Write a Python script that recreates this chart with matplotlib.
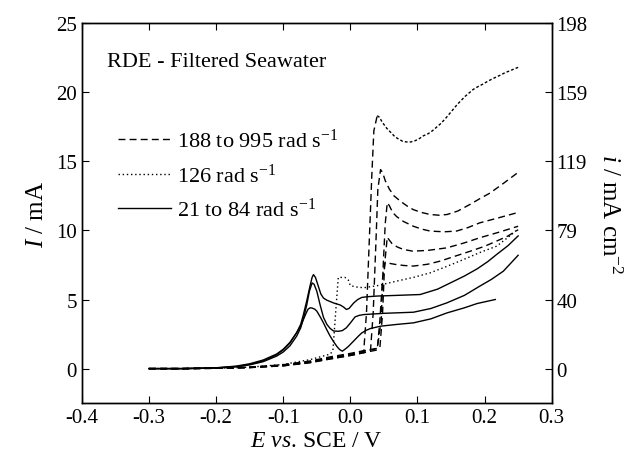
import matplotlib
matplotlib.use("Agg")
import matplotlib.pyplot as plt

# -----------------------------
# Data (E in V vs SCE, I in mA)
# -----------------------------
# 188 to 995 rad/s (dashed)
e_d1 = [-0.30, -0.25, -0.20, -0.15, -0.10, -0.06, -0.03, 0.00, 0.015, 0.020, 0.024, 0.028, 0.032, 0.035,
        0.040, 0.043, 0.048, 0.054, 0.060, 0.066, 0.072, 0.078, 0.084, 0.090, 0.097, 0.103, 0.109, 0.116,
        0.122, 0.128, 0.134, 0.140, 0.147, 0.153, 0.159, 0.165, 0.171, 0.177, 0.183, 0.190, 0.198, 0.205,
        0.213, 0.222, 0.230, 0.240, 0.250]
i_d1 = [0.0, 0.0, 0.02, 0.08, 0.2, 0.42, 0.7, 0.95, 1.1, 1.3, 4.0, 9.0, 14.0, 17.2,
        18.3, 18.2, 17.8, 17.4, 17.1, 16.8, 16.6, 16.45, 16.4, 16.4, 16.5, 16.65, 16.85, 17.0,
        17.2, 17.45, 17.7, 18.0, 18.4, 18.75, 19.1, 19.4, 19.7, 19.95, 20.2, 20.4, 20.6, 20.8,
        21.0, 21.2, 21.4, 21.6, 21.8]
d1_peak = 14  # index of the peak, after which the trace looks finely dotted

e_d2 = [-0.30, -0.25, -0.20, -0.15, -0.10, -0.06, -0.03, 0.00, 0.02, 0.030, 0.034, 0.038, 0.041, 0.045,
        0.048, 0.052, 0.058, 0.065, 0.075, 0.085, 0.094, 0.106, 0.119, 0.132, 0.144, 0.160, 0.179, 0.193,
        0.208, 0.228, 0.250]
i_d2 = [0.0, 0.0, 0.03, 0.1, 0.25, 0.5, 0.78, 1.0, 1.15, 1.3, 4.0, 9.0, 13.0, 14.4,
        14.2, 13.6, 13.0, 12.5, 12.1, 11.75, 11.5, 11.3, 11.15, 11.1, 11.15, 11.4, 11.9, 12.3,
        12.7, 13.4, 14.2]

e_d3 = [-0.30, -0.25, -0.20, -0.15, -0.10, -0.06, -0.03, 0.00, 0.02, 0.040, 0.046, 0.049, 0.052, 0.055,
        0.058, 0.063, 0.069, 0.079, 0.094, 0.106, 0.119, 0.140, 0.158, 0.175, 0.193, 0.220, 0.250]
i_d3 = [0.0, 0.0, 0.02, 0.08, 0.22, 0.48, 0.75, 1.05, 1.25, 1.45, 3.5, 7.5, 10.5, 12.0,
        11.8, 11.3, 11.0, 10.65, 10.3, 10.1, 9.95, 9.9, 9.95, 10.2, 10.55, 10.9, 11.3]

e_d4 = [-0.30, -0.25, -0.20, -0.15, -0.10, -0.06, -0.03, 0.00, 0.02, 0.044, 0.048, 0.051, 0.055,
        0.058, 0.062, 0.070, 0.079, 0.093, 0.115, 0.144, 0.170, 0.193, 0.220, 0.250]
i_d4 = [0.0, 0.0, 0.03, 0.1, 0.28, 0.55, 0.85, 1.1, 1.3, 1.5, 4.0, 7.5, 9.5,
        9.3, 9.05, 8.8, 8.62, 8.5, 8.55, 8.74, 9.1, 9.47, 9.85, 10.3]

e_d5 = [-0.30, -0.25, -0.20, -0.15, -0.10, -0.06, -0.03, 0.00, 0.02, 0.040, 0.044, 0.048, 0.052,
        0.056, 0.060, 0.067, 0.080, 0.094, 0.115, 0.134, 0.157, 0.179, 0.200, 0.218, 0.235, 0.250]
i_d5 = [0.0, 0.0, 0.02, 0.07, 0.2, 0.45, 0.7, 0.95, 1.15, 1.35, 3.5, 6.5, 7.7,
        7.65, 7.6, 7.54, 7.46, 7.42, 7.55, 7.78, 8.15, 8.5, 8.85, 9.23, 9.6, 10.05]

# 126 rad/s (dotted)
e_126 = [-0.30, -0.25, -0.20, -0.15, -0.10, -0.06, -0.03, -0.026, -0.022, -0.018, -0.008, -0.003, 0.0,
         0.01, 0.020, 0.040, 0.069, 0.094, 0.119, 0.144, 0.169, 0.193, 0.218, 0.235, 0.250]
i_126 = [0.0, 0.0, 0.03, 0.1, 0.3, 0.65, 1.05, 1.3, 4.0, 6.6, 6.6, 6.4, 6.0,
         5.9, 5.85, 6.0, 6.33, 6.6, 6.93, 7.4, 7.9, 8.4, 8.86, 9.5, 10.1]

# 21 to 84 rad/s (solid)
e_s1 = [-0.30, -0.25, -0.20, -0.17, -0.15, -0.13, -0.11, -0.10, -0.09, -0.08, -0.074, -0.070, -0.065,
        -0.060, -0.057, -0.055, -0.052, -0.048, -0.044, -0.040, -0.035, -0.025, -0.015, -0.010, -0.006,
        -0.002, 0.005, 0.011, 0.017, 0.025, 0.040, 0.070, 0.104, 0.130, 0.149, 0.170, 0.189, 0.205,
        0.218, 0.235, 0.250]
i_s1 = [0.0, 0.0, 0.05, 0.15, 0.3, 0.55, 1.0, 1.35, 1.85, 2.6, 3.2, 3.9, 4.9,
        6.0, 6.6, 6.8, 6.6, 6.0, 5.4, 5.1, 4.95, 4.75, 4.6, 4.45, 4.28,
        4.35, 4.75, 5.0, 5.15, 5.2, 5.25, 5.3, 5.36, 5.75, 6.2, 6.7, 7.22, 7.75,
        8.26, 8.9, 9.6]

e_s2 = [-0.30, -0.25, -0.20, -0.17, -0.15, -0.13, -0.11, -0.10, -0.09, -0.08, -0.074, -0.070, -0.065,
        -0.061, -0.057, -0.054, -0.050, -0.045, -0.040, -0.035, -0.030, -0.025, -0.018, -0.012, -0.006,
        0.0, 0.007, 0.013, 0.020, 0.050, 0.094, 0.120, 0.144, 0.170, 0.193, 0.210, 0.228, 0.250]
i_s2 = [0.0, 0.0, 0.04, 0.13, 0.27, 0.5, 0.9, 1.2, 1.65, 2.35, 2.95, 3.6, 4.6,
        5.6, 6.2, 6.1, 5.6, 4.6, 3.7, 3.2, 2.9, 2.72, 2.7, 2.75, 2.95,
        3.3, 3.74, 3.85, 3.91, 4.0, 4.08, 4.35, 4.76, 5.3, 5.97, 6.45, 7.05, 8.2]

e_s3 = [-0.30, -0.25, -0.20, -0.17, -0.15, -0.13, -0.11, -0.10, -0.09, -0.08, -0.074, -0.070, -0.066,
        -0.063, -0.060, -0.057, -0.053, -0.050, -0.045, -0.040, -0.035, -0.030, -0.025, -0.020, -0.016,
        -0.012, -0.008, -0.003, 0.002, 0.007, 0.012, 0.017, 0.024, 0.030, 0.045, 0.070, 0.094, 0.120,
        0.144, 0.170, 0.189, 0.216]
i_s3 = [0.0, 0.0, 0.06, 0.18, 0.35, 0.62, 1.05, 1.4, 1.9, 2.6, 3.1, 3.55, 4.0,
        4.3, 4.4, 4.38, 4.3, 4.16, 3.75, 3.3, 2.8, 2.34, 1.95, 1.6, 1.38,
        1.26, 1.4, 1.6, 1.85, 2.1, 2.35, 2.58, 2.78, 2.9, 3.07, 3.2, 3.31, 3.6,
        4.03, 4.4, 4.71, 5.0]

# axis ticks
x_ticks = [-0.4, -0.3, -0.2, -0.1, 0.0, 0.1, 0.2, 0.3]
y_ticks = [0, 5, 10, 15, 20, 25]
right_labels = ["0", "40", "79", "119", "159", "198"]

legend_labels = [r"188 to 995 rad s$^{\mathregular{-1}}$", r"126 rad s$^{\mathregular{-1}}$",
                 r"21 to 84 rad s$^{\mathregular{-1}}$"]

# -----------------------------
# Style
# -----------------------------
plt.rcParams["font.family"] = "serif"
plt.rcParams["font.serif"] = ["Liberation Serif", "DejaVu Serif"]
plt.rcParams["mathtext.fontset"] = "custom"
plt.rcParams["mathtext.rm"] = "Liberation Serif"
plt.rcParams["mathtext.it"] = "Liberation Serif:italic"
plt.rcParams["xtick.direction"] = "in"
plt.rcParams["ytick.direction"] = "in"

fig = plt.figure(figsize=(6.4, 4.64), dpi=100)
ax = fig.add_axes([0.128, 0.129, 0.734, 0.819])

dash = (0, (5, 3))
dot = (0, (1, 2))
lw = 1.0

# dashed family
ax.plot(e_d1[:d1_peak + 1], i_d1[:d1_peak + 1], color="black", lw=lw, linestyle=dash)
ax.plot(e_d1[d1_peak:], i_d1[d1_peak:], color="black", lw=lw, linestyle=(0, (2, 1.5)))
for e, i in [(e_d2, i_d2), (e_d3, i_d3), (e_d4, i_d4), (e_d5, i_d5)]:
    ax.plot(e, i, color="black", lw=lw, linestyle=dash)

# dotted
ax.plot(e_126, i_126, color="black", lw=lw, linestyle=dot)

# solid family
for e, i in [(e_s1, i_s1), (e_s2, i_s2), (e_s3, i_s3)]:
    ax.plot(e, i, color="black", lw=lw)

# legend handles
h1, = ax.plot([], [], color="black", lw=lw, linestyle=dash)
h2, = ax.plot([], [], color="black", lw=lw, linestyle=dot)
h3, = ax.plot([], [], color="black", lw=lw)
ax.legend([h1, h2, h3], legend_labels, loc="upper left", bbox_to_anchor=(0.058, 0.745),
          frameon=False, fontsize=16, handlelength=2.4, handletextpad=0.25,
          labelspacing=0.5, borderaxespad=0)

ax.text(-0.362, 22.2, "RDE - Filtered Seawater", fontsize=16, va="center", ha="left")

ax.set_xlim(-0.4, 0.3)
ax.set_ylim(-2.5, 25)
ax.set_xticks(x_ticks)
ax.set_xticklabels([f"{t:.1f}" for t in x_ticks])
ax.set_yticks(y_ticks)
ax.tick_params(axis="both", labelsize=15, length=5, width=0.8, top=True, right=False)
ax.set_xlabel(r"$E$ $vs$. SCE / V", fontsize=17, labelpad=2)
ax.set_ylabel(r"$I$ / mA", fontsize=18, labelpad=6)

ax2 = ax.twinx()
ax2.set_ylim(ax.get_ylim())
ax2.set_yticks(y_ticks)
ax2.set_yticklabels(right_labels)
ax2.tick_params(axis="y", labelsize=15, length=5, width=0.8, direction="in")
ax2.set_ylabel(r"$i$ / mA cm$^{\mathregular{-2}}$", fontsize=18, rotation=270, labelpad=24)

for a in (ax, ax2):
    for s in a.spines.values():
        s.set_linewidth(1.0)

fig.savefig("out.png", dpi=100)
